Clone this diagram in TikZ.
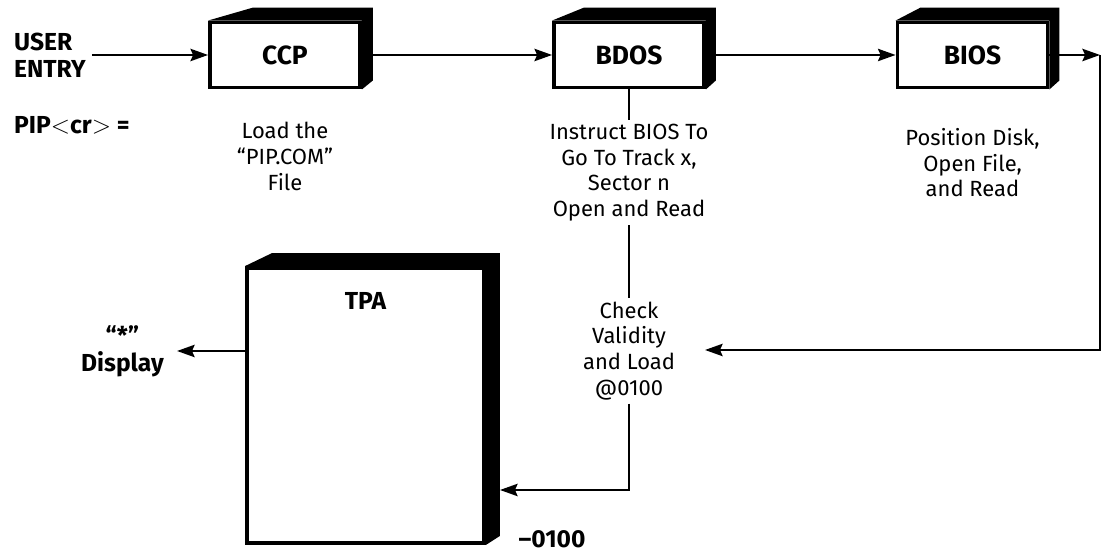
\documentclass[tikz,border=0pt]{standalone}
\usepackage{fontspec}
\setmainfont{Fira Sans}
\usetikzlibrary{arrows.meta, positioning, calc}

\begin{document}
\begin{tikzpicture}[
    every node/.style={font=\fontsize{12.5}{14.6}\selectfont},
    arr/.style={-{Stealth[length=10pt, width=7pt, inset=1.5pt]}, line width=1.3pt},
    wire/.style={line width=1.3pt},
    txt/.style={align=center, inner sep=2pt},
    hdr/.style={font=\fontsize{14}{15.5}\selectfont\bfseries},
    face/.style={rectangle, draw, fill=white, line width=2.2pt, minimum width=3.0cm,
                 minimum height=1.30cm, font=\fontsize{15}{17}\selectfont\bfseries},
]
\useasboundingbox (0,0) rectangle (22.12,11.04);

% ============================================================ top row
\node[hdr, anchor=west, align=left] (user) at (0.16, 9.94) {USER\\ENTRY};
\node[face] (ccp) at (5.70, 9.94) {CCP};
\node[face] (bdos) at (12.58, 9.94) {BDOS};
\node[face] (bios) at (19.45, 9.94) {BIOS};
\coordinate (turn) at (22.00, 9.94);
\coordinate (back) at (22.00, 4.04);
\coordinate (ret) at (14.10, 4.04);

\node[hdr, anchor=west] (pip) at (0.16, 8.54) {PIP{\mdseries$<$}cr{\mdseries$>$}\ =};

\node[txt, below=0.58cm of ccp] (load) {Load the\\``PIP.COM''\\File};
\node[txt, below=0.62cm of bdos] (instr) {Instruct BIOS To\\Go To Track x,\\Sector n\\Open and Read};
\node[txt, below=0.70cm of bios] (pos) {Position Disk,\\Open File,\\and Read};
\node[txt, below=1.45cm of instr] (chk) {Check\\Validity\\and Load\\@0100};

% ============================================================ the TPA block
\node[face, minimum width=4.74cm, minimum height=5.50cm] (tpa) at (7.31, 2.93) {};
\node[hdr, below=0.40cm of tpa.north] (tpaname) {TPA};
\node[hdr, align=center] (disp) at (2.45, 4.02) {``*''\\Display};
\node[hdr, inner sep=1pt, anchor=south] (base) at (11.04, 0.04) {--0100};
\coordinate (bend) at (12.58, 1.24);
\coordinate (tin) at (10.00, 1.24);

% solid sides of each block
\foreach \b/\t/\d in {ccp/0.90/0.22, bdos/0.64/0.20, bios/0.50/0.20, tpa/0.54/0.28}
    \fill (\b.north west) -- ++(\t,0.26) -- ($(\b.north east)+(\d,0.26)$)
        -- ($(\b.south east)+(\d,0.18)$) -- (\b.south east) -- (\b.north east) -- cycle;

% ============================================================ connectors
\draw[arr] (user) -- (ccp);
\draw[arr] (ccp) -- (bdos);
\draw[arr] (bdos) -- (bios);
\draw[arr] (bios) -- (turn);
\draw[arr] (turn) -- (back) -- (ret);
\draw[wire] (bdos) -- (instr);
\draw[wire] (instr) -- (chk);
\draw[arr] (chk) -- (bend) -- (tin);
\draw[arr, shorten >=4pt] (tpa.west |- disp) -- (disp);

\end{tikzpicture}
\end{document}
